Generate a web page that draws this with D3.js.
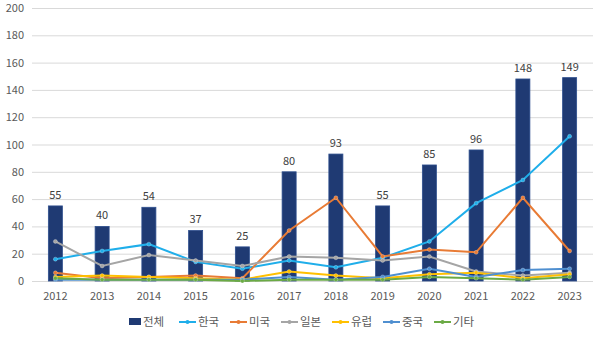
<!DOCTYPE html>
<html>
<head>
<meta charset="utf-8">
<script src="https://cdn.jsdelivr.net/npm/d3@7"></script>
<style>
  body { margin: 0; background: #fff; }
  text { font-family: "Noto Sans CJK KR", "Noto Sans", sans-serif; }
</style>
</head>
<body>
<div id="chart"></div>
<script>
var years = ["2012","2013","2014","2015","2016","2017","2018","2019","2020","2021","2022","2023"];
var total = [55, 40, 54, 37, 25, 80, 93, 55, 85, 96, 148, 149];
var korea = [16, 22, 27, 14, 9, 15, 10, 17, 29, 57, 74, 106];
var usa = [6, 2, 3, 4, 2, 37, 61, 18, 23, 21, 61, 22];
var japan = [29, 11, 19, 15, 11, 18, 17, 15, 18, 7, 4, 6];
var europe = [3, 4, 3, 2, 1, 7, 4, 2, 5, 6, 2, 5];
var china = [1, 1, 1, 1, 1, 3, 1, 3, 9, 3, 8, 9];
var etc = [2, 1, 1, 1, 0, 1, 1, 1, 3, 2, 1, 3];
var yTicks = [0, 20, 40, 60, 80, 100, 120, 140, 160, 180, 200];

var series = [
    { name: "한국", values: korea, color: "#1FAEEA" },
    { name: "미국", values: usa, color: "#E87B35" },
    { name: "일본", values: japan, color: "#A5A5A5" },
    { name: "유럽", values: europe, color: "#FFC000" },
    { name: "중국", values: china, color: "#4F8FD0" },
    { name: "기타", values: etc, color: "#6BAA45" }
];

const margin = {top: 8, right: 7, bottom: 59, left: 32};
const width = 600, height = 340;

const svg = d3.select("#chart").append("svg")
    .attr("width", width)
    .attr("height", height);

const x = d3.scaleBand()
    .domain(years)
    .range([margin.left, width - margin.right])
    .paddingInner(0.7)
    .paddingOuter(0.35);

const y = d3.scaleLinear()
    .domain([0, 200])
    .range([height - margin.bottom, margin.top]);

const cx = function(i){ return x(years[i]) + x.bandwidth() / 2; };

// gridlines
svg.append("g")
    .selectAll("line")
    .data(yTicks)
    .enter()
    .append("line")
    .attr("x1", margin.left)
    .attr("x2", width - margin.right)
    .attr("y1", function(d){ return y(d) + 0.5; })
    .attr("y2", function(d){ return y(d) + 0.5; })
    .attr("stroke", "#D9D9D9")
    .attr("stroke-width", 1);

// y labels
svg.append("g")
    .selectAll("text")
    .data(yTicks)
    .enter()
    .append("text")
    .attr("x", 24)
    .attr("y", function(d){ return y(d) + 4; })
    .attr("text-anchor", "end")
    .attr("font-size", 11)
    .attr("fill", "#595959")
    .text(function(d){ return d; });

// x labels
svg.append("g")
    .selectAll("text")
    .data(years)
    .enter()
    .append("text")
    .attr("x", function(d, i){ return cx(i); })
    .attr("y", height - margin.bottom + 19)
    .attr("text-anchor", "middle")
    .attr("font-size", 11)
    .attr("fill", "#595959")
    .text(function(d){ return d; });

/* bars */
svg.append("g")
    .selectAll("rect")
    .data(total)
    .enter()
    .append("rect")
    .attr("x", function(d, i){ return x(years[i]); })
    .attr("y", function(d){ return y(d); })
    .attr("width", x.bandwidth())
    .attr("height", function(d){ return y(0) - y(d); })
    .attr("fill", "#1F3A73")
    .attr("stroke", "#2E4F8E")
    .attr("stroke-width", 0.8);

svg.append("g")
    .selectAll("text")
    .data(total)
    .enter()
    .append("text")
    .attr("x", function(d, i){ return cx(i); })
    .attr("y", function(d){ return y(d) - 7; })
    .attr("text-anchor", "middle")
    .attr("font-size", 11)
    .attr("fill", "#404040")
    .text(function(d){ return d; });

/* lines */
const line = d3.line()
    .x(function(d, i){ return cx(i); })
    .y(function(d){ return y(d); });

series.forEach(function(s){
    svg.append("path")
        .datum(s.values)
        .attr("d", line)
        .attr("fill", "none")
        .attr("stroke", s.color)
        .attr("stroke-width", 2);

    svg.append("g")
        .selectAll("circle")
        .data(s.values)
        .enter()
        .append("circle")
        .attr("cx", function(d, i){ return cx(i); })
        .attr("cy", function(d){ return y(d); })
        .attr("r", 2)
        .attr("fill", s.color)
        .attr("stroke", "#fff")
        .attr("stroke-opacity", 0.5)
        .attr("stroke-width", 0.5);
});

/* legend */
const legend = svg.append("g").attr("transform", "translate(0,322)");
var lx = 129;
legend.append("rect")
    .attr("x", lx)
    .attr("y", -4)
    .attr("width", 12)
    .attr("height", 7)
    .attr("fill", "#1F3A73");
legend.append("text")
    .attr("x", lx + 14)
    .attr("y", 4)
    .attr("font-size", 11.5)
    .attr("fill", "#595959")
    .text("전체");
lx += 50;
series.forEach(function(s){
    legend.append("line")
        .attr("x1", lx)
        .attr("x2", lx + 17)
        .attr("y1", 0)
        .attr("y2", 0)
        .attr("stroke", s.color)
        .attr("stroke-width", 2);
    legend.append("circle")
        .attr("cx", lx + 8.5)
        .attr("cy", 0)
        .attr("r", 2)
        .attr("fill", s.color);
    legend.append("text")
        .attr("x", lx + 19)
        .attr("y", 4)
        .attr("font-size", 11.5)
        .attr("fill", "#595959")
        .text(s.name);
    lx += 51;
});
</script>
</body>
</html>
